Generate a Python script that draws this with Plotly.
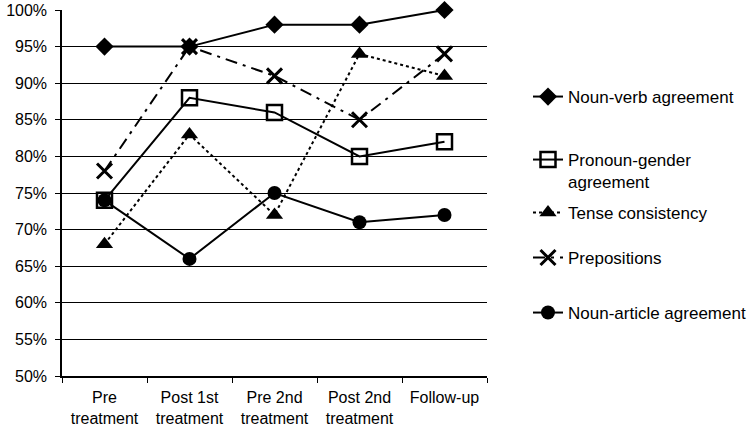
import plotly.graph_objects as go

categories = ["Pre<br>treatment", "Post 1st<br>treatment", "Pre 2nd<br>treatment", "Post 2nd<br>treatment", "Follow-up"]
noun_verb = [95, 95, 98, 98, 100]
pronoun_gender = [74, 88, 86, 80, 82]
tense = [68, 83, 72, 94, 91]
prepositions = [78, 95, 91, 85, 94]
noun_article = [74, 66, 75, 71, 72]
y_ticks = [50, 55, 60, 65, 70, 75, 80, 85, 90, 95, 100]
y_tick_labels = ["50%", "55%", "60%", "65%", "70%", "75%", "80%", "85%", "90%", "95%", "100%"]

W, H = 754, 434
ML, MR, MT, MB = 62, 267, 10, 58
plot_h = H - MT - MB
plot_w = W - ML - MR

fig = go.Figure()
common = dict(mode="lines+markers", cliponaxis=False)
fig.add_trace(go.Scatter(x=categories, y=noun_verb, name="Noun-verb agreement", legend="legend",
                         line=dict(color="black", width=2),
                         marker=dict(symbol="diamond", size=14, color="black"), **common))
fig.add_trace(go.Scatter(x=categories, y=pronoun_gender, name="Pronoun-gender<br>agreement", legend="legend2",
                         line=dict(color="black", width=2),
                         marker=dict(symbol="square-open", size=15, color="black", line=dict(width=2.5)), **common))
fig.add_trace(go.Scatter(x=categories, y=tense, name="Tense consistency", legend="legend3",
                         line=dict(color="black", width=2, dash="dot"),
                         marker=dict(symbol="triangle-up", size=15, color="black"), **common))
fig.add_trace(go.Scatter(x=categories, y=prepositions, name="Prepositions", legend="legend4",
                         line=dict(color="black", width=2, dash="12px,6px,3px,6px"),
                         marker=dict(symbol="x-thin-open", size=15, color="black", line=dict(width=3, color="black")), **common))
fig.add_trace(go.Scatter(x=categories, y=noun_article, name="Noun-article agreement", legend="legend5",
                         line=dict(color="black", width=2),
                         marker=dict(symbol="circle", size=14, color="black"), **common))

legend_x = (528 - ML) / plot_w
legend_centers = [97, 171, 213, 258, 313]
def leg(py):
    return dict(x=legend_x, y=(H - MB - py) / plot_h, xanchor="left", yanchor="middle", valign="top",
                font=dict(size=17, family="Liberation Sans, Arial, sans-serif", color="black"),
                bgcolor="rgba(0,0,0,0)")

fig.update_layout(
    width=W, height=H,
    margin=dict(l=ML, r=MR, t=MT, b=MB, autoexpand=False),
    paper_bgcolor="white", plot_bgcolor="white",
    font=dict(family="Liberation Sans, Arial, sans-serif", size=16, color="black"),
    showlegend=True,
    legend=leg(legend_centers[0]),
    legend2=leg(legend_centers[1]),
    legend3=leg(legend_centers[2]),
    legend4=leg(legend_centers[3]),
    legend5=leg(legend_centers[4]),
    xaxis=dict(type="category", range=[-0.5, len(categories) - 0.5],
               showline=True, linecolor="black", linewidth=1.5,
               ticks="outside", tickson="boundaries", ticklen=5, tickcolor="black",
               ticklabelstandoff=6,
               showgrid=False, zeroline=False, automargin=False),
    yaxis=dict(range=[50, 100], tickvals=y_ticks, ticktext=y_tick_labels,
               showline=True, linecolor="black", linewidth=1.5,
               ticks="outside", ticklen=5, tickcolor="black", ticklabelstandoff=5,
               showgrid=True, gridcolor="black", gridwidth=1.2, zeroline=False, automargin=False),
)

fig.write_html("out.html", config={"displayModeBar": False},
               post_script="document.body.style.margin='0px';")
